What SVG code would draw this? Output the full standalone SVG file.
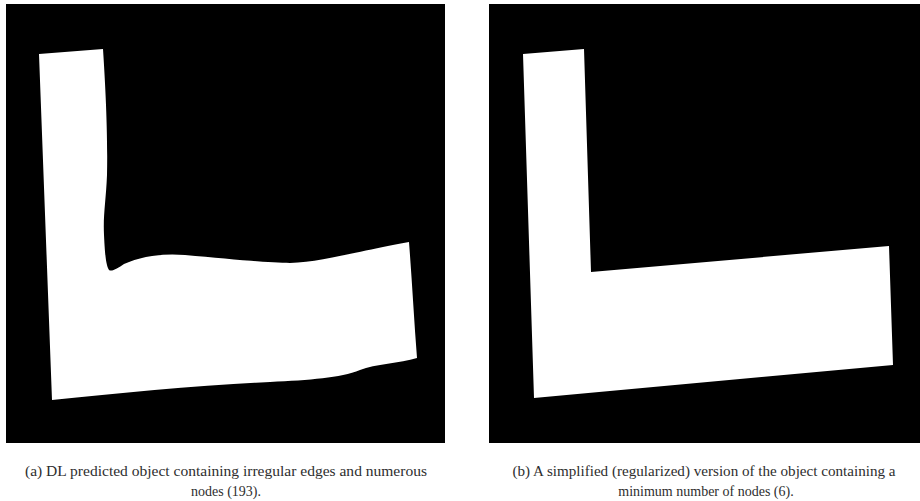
<svg xmlns="http://www.w3.org/2000/svg" width="920" height="501" viewBox="0 0 920 501">
  <style>
    .panel { fill: #000000; }
    .shape { fill: #ffffff; }
    .cap { font-family: "Liberation Serif", "Times New Roman", serif; font-size: 14px; fill: #2e2e2e; text-anchor: middle; }
  </style>
  <defs>
    <filter id="soft" x="-5%" y="-5%" width="110%" height="110%">
      <feGaussianBlur stdDeviation="0.7"/>
    </filter>
  </defs>
  <rect width="920" height="501" fill="#ffffff"/>

  <g id="panel-a">
    <rect class="panel" x="6" y="4" width="439" height="439"/>
    <path class="shape" filter="url(#soft)" d="M39,54 L103,49 C105,80 108,130 107,175 C106,200 103,215 104,235 C105,255 106,265 109,270 C112,272 118,268 124,264 C140,257 160,253 185,255 C230,259 270,263 290,263 C320,262 350,253 409,242 C412,280 414,320 417,358 C400,363 375,364 360,370 C340,378 310,380 270,382 C200,385 120,393 52,400 Z"/>
  </g>

  <g id="panel-b">
    <rect class="panel" x="489" y="4" width="431" height="439"/>
    <polygon class="shape" filter="url(#soft)" points="523,54 584,49 591,272 889,246 893,365 534,398"/>
  </g>

  <g id="caption-a">
    <text class="cap" x="226" y="476" textLength="402" lengthAdjust="spacingAndGlyphs">(a) DL predicted object containing irregular edges and numerous</text>
    <text class="cap" x="226" y="496">nodes (193).</text>
  </g>

  <g id="caption-b">
    <text class="cap" x="704" y="476" textLength="383" lengthAdjust="spacingAndGlyphs">(b) A simplified (regularized) version of the object containing a</text>
    <text class="cap" x="706" y="496">minimum number of nodes (6).</text>
  </g>
</svg>
